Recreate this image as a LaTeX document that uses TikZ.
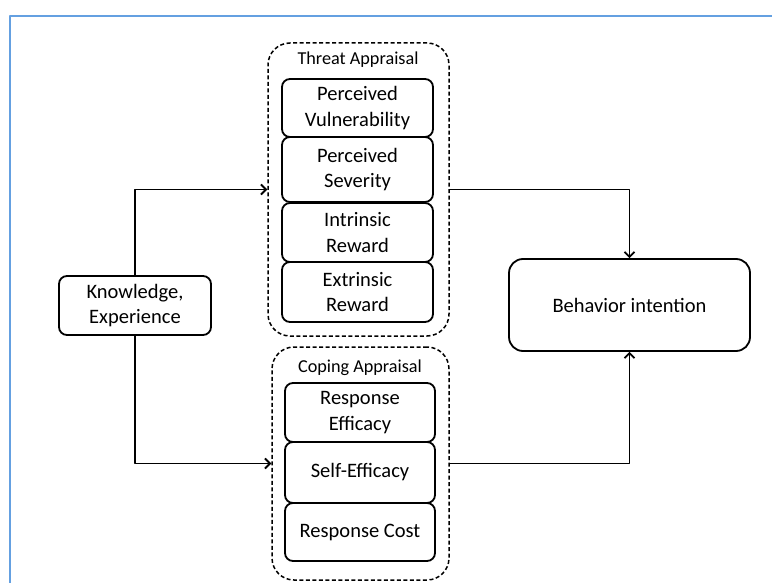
\documentclass[tikz,border=0pt]{standalone}
\usepackage{fontspec}
\setmainfont{Carlito}
\usetikzlibrary{arrows.meta}
\definecolor{frameblue}{RGB}{100,160,225}
\begin{document}
\begin{tikzpicture}[x=1pt,y=-1pt,>={Straight Barb[length=5pt,width=10pt]}, line join=round, line cap=round,
	box/.style={draw, line width=1.8pt, rounded corners=8pt, inner sep=0pt, align=center, font=\fontsize{20.5}{25.5}\selectfont},
	item/.style={box, minimum width=151pt},
	group/.style={draw, line width=1.5pt, line cap=butt, dash pattern=on 4pt off 2.5pt, rounded corners=22pt, inner sep=0pt},
	grouptitle/.style={inner sep=0pt, font=\fontsize{18.2}{22}\selectfont}]
	\useasboundingbox (0,0) rectangle (772,583);
	\draw[frameblue, line width=2pt, line cap=butt] (10,583) -- (10,16) -- (772,16);
	% appraisal groups
	\node[group, minimum width=181pt, minimum height=293pt] (threat) at (358.5,189.5) {};
	\node[group, minimum width=177pt, minimum height=233pt] (coping) at (360.5,463.5) {};
	\node[grouptitle] (threattitle) at (358,60) {Threat Appraisal};
	\node[grouptitle] (copingtitle) at (360,368) {Coping Appraisal};
	% threat items
	\node[item, minimum height=58pt] (vuln) at (357.5,108) {Perceived\\Vulnerability};
	\node[item, minimum height=65pt] (sev) at (357.5,169.5) {Perceived\\Severity};
	\node[item, minimum height=59pt] (intr) at (357.5,232.5) {Intrinsic\\Reward};
	\node[item, minimum height=60pt] (extr) at (357.5,292) {Extrinsic\\Reward};
	% coping items
	\node[item, minimum width=150pt, minimum height=59pt] (respeff) at (360,412.5) {Response\\Efficacy};
	\node[item, minimum width=150pt, minimum height=61pt] (selfeff) at (360,472.5) {Self-Efficacy};
	\node[item, minimum width=150pt, minimum height=58pt] (cost) at (360,532) {Response Cost};
	% inputs and outcome
	\node[box, minimum width=152pt, minimum height=59pt] (know) at (135,305.5) {Knowledge,\\Experience};
	\node[box, rounded corners=14pt, minimum width=241pt, minimum height=92pt] (intent) at (629.5,305) {Behavior intention};
	\draw[->, line width=1.8pt] (know.north) |- (threat.west);
	\draw[->, line width=1.8pt] (know.south) |- (coping.west);
	\draw[->, line width=1.8pt] (threat.east) -| (intent.north);
	\draw[->, line width=1.8pt] (coping.east) -| (intent.south);
\end{tikzpicture}
\end{document}
